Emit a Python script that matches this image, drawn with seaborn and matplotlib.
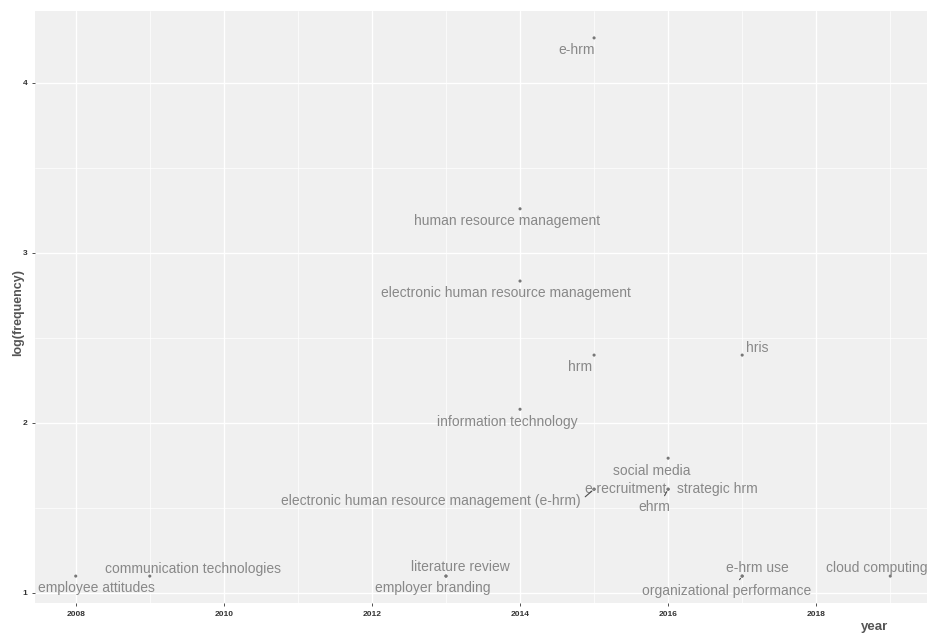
import numpy as np
import pandas as pd
import matplotlib
matplotlib.use("Agg")
import matplotlib.pyplot as plt
import seaborn as sns

# Trend topics: keyword, year of peak use and number of occurrences
terms = [
    "e-hrm", "human resource management", "electronic human resource management",
    "hrm", "hris", "information technology", "social media",
    "e-recruitment", "electronic human resource management (e-hrm)",
    "strategic hrm", "ehrm",
    "employee attitudes", "communication technologies",
    "literature review", "employer branding",
    "e-hrm use", "organizational performance", "cloud computing",
]
years = [2015, 2014, 2014, 2015, 2017, 2014, 2016,
         2015, 2015, 2016, 2016,
         2008, 2009, 2013, 2013, 2017, 2017, 2019]
freq = [71, 26, 17, 11, 11, 8, 6,
        5, 5, 5, 5,
        3, 3, 3, 3, 3, 3, 3]

# label placement (offset of label centre from its point, in pixels)
label_dx = [-17, -13, -14, -14, 15, -13, -16,
            31, -163, 49, -14,
            21, 43, 14, -13, 15, -16, -14]
label_dy = [-12, -12, -12, -12, 7, -13, -13,
            0, -12, 0, -18,
            -12, 7, 9, -12, 8, -15, 8]
# leader lines: where on the label box the segment starts (None = no segment)
leader_from = [None, None, None, None, None, None, None,
               None, (1.0, 0.55), None, (0.75, 1.0),
               None, None, None, None, None, (0.56, 1.0), None]

x_ticks = [2008, 2010, 2012, 2014, 2016, 2018]
y_ticks = [1, 2, 3, 4]

df = pd.DataFrame({"term": terms, "year": years, "freq": freq})
df["logfreq"] = np.log(df["freq"])

sns.set_theme(style="darkgrid")
plt.rcParams["font.family"] = ["Liberation Sans", "DejaVu Sans"]

fig = plt.figure(figsize=(9.28, 6.35), dpi=100)
ax = fig.add_axes([35 / 928, 1 - 603 / 635, (931 - 35) / 928, (603 - 11) / 635])
ax.set_facecolor("#F0F0F0")

sns.scatterplot(data=df, x="year", y="logfreq", ax=ax, s=5, color="#777777",
                edgecolor="none", legend=False, zorder=3)

label_color = "#888888"
for i, row in df.iterrows():
    arrow = None
    if leader_from[i] is not None:
        arrow = dict(arrowstyle="-", color="#4D4D4D", lw=0.8, shrinkA=1, shrinkB=2,
                     relpos=leader_from[i])
    ax.annotate(row["term"], xy=(row["year"], row["logfreq"]),
                xytext=(label_dx[i], label_dy[i]), textcoords="offset pixels",
                ha="center", va="center", fontsize=10, color=label_color,
                arrowprops=arrow, zorder=4)

# ggplot-like scale expansion
xr = max(years) - min(years)
ax.set_xlim(min(years) - 0.05 * xr, max(years) + 0.05 * xr)
ymin, ymax = df["logfreq"].min(), df["logfreq"].max()
yr = ymax - ymin
ax.set_ylim(ymin - 0.05 * yr, ymax + 0.05 * yr)

ax.set_xticks(x_ticks)
ax.set_xticks(np.arange(2009, 2020, 2), minor=True)
ax.set_yticks(y_ticks)
ax.set_yticks([1.5, 2.5, 3.5], minor=True)
ax.set_xticklabels([str(t) for t in x_ticks])
ax.set_yticklabels([str(t) for t in y_ticks])

ax.grid(which="major", color="white", linewidth=1.0)
ax.grid(which="minor", color="white", linewidth=0.5)
ax.set_axisbelow(True)
for s in ax.spines.values():
    s.set_visible(False)

ax.tick_params(axis="both", which="major", length=2.5, width=0.6, color="#333333",
               labelsize=6, labelcolor="#333333", pad=3, bottom=True, left=True)
ax.tick_params(axis="both", which="minor", length=0)
for lab in ax.get_xticklabels() + ax.get_yticklabels():
    lab.set_fontweight("bold")

ax.set_xlabel("")
ax.set_ylabel("")
fig.text(18 / 928, 1 - 312 / 635, "log(frequency)", rotation=90, ha="center",
         va="center", fontsize=9, fontweight="bold", color="#555555")
fig.text(888 / 928, 1 - 627 / 635, "year", ha="right", va="center",
         fontsize=9.5, fontweight="bold", color="#555555")

fig.savefig("out.png", dpi=100, facecolor="white")
